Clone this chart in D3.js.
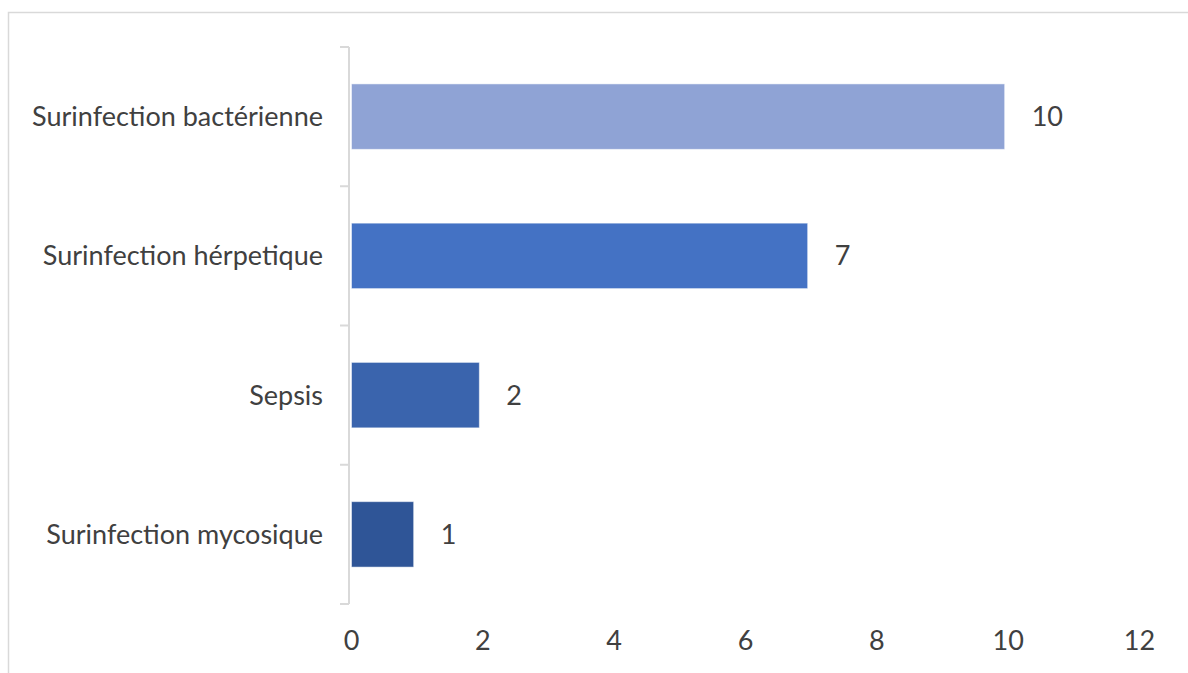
<!DOCTYPE html>
<html>
<head>
<meta charset="utf-8">
<script src="https://cdn.jsdelivr.net/npm/d3@7"></script>
<style>
  html, body { margin: 0; padding: 0; background: #fff; }
  svg { display: block; }
  text { font-family: Lato, "Open Sans", sans-serif; fill: #404040; }
</style>
</head>
<body>
<svg id="chart" width="1188" height="673"></svg>
<script>
// Complications infectieuses (effectifs)
const categories = ["Surinfection bactérienne", "Surinfection hérpetique", "Sepsis", "Surinfection mycosique"];
const counts = [10, 7, 2, 1];
const barColors = ["#8FA3D5", "#4472C4", "#3A64AD", "#2F5597"];
const xTicks = [0, 2, 4, 6, 8, 10, 12];

const fontSize = 27;
const svg = d3.select("#chart");

// chart area frame
svg.append("rect")
  .attr("x", 8.5).attr("y", 12.5)
  .attr("width", 1200).attr("height", 700)
  .attr("fill", "none").attr("stroke", "#d9d9d9").attr("stroke-width", 1.5);

const plot = { left: 348, right: 1136, top: 47, bottom: 604 };

const x = d3.scaleLinear().domain([0, 12]).range([plot.left, plot.right]);
const y = d3.scaleBand().domain(categories).range([plot.top, plot.bottom])
  .paddingInner(0.53).paddingOuter(0.265);
const axisX = x(0) + 1;
const barStart = x(0) + 3.5;

// bars
svg.append("g").selectAll("rect")
  .data(categories)
  .join("rect")
  .attr("x", barStart)
  .attr("y", d => y(d))
  .attr("width", (d, i) => x(counts[i]) - barStart)
  .attr("height", y.bandwidth())
  .attr("fill", (d, i) => barColors[i])
  .attr("stroke", "#ffffff").attr("stroke-opacity", 0.5).attr("stroke-width", 1);

// value labels
svg.append("g").selectAll("text")
  .data(categories)
  .join("text")
  .attr("x", (d, i) => x(counts[i]) + 27)
  .attr("y", d => y(d) + y.bandwidth() / 2)
  .attr("dy", "0.35em")
  .attr("font-size", fontSize)
  .text((d, i) => counts[i]);

// category axis with tick marks between bands
const boundaries = d3.range(categories.length + 1).map(i => plot.top + i * (plot.bottom - plot.top) / categories.length);
const axisG = svg.append("g");
axisG.append("line")
  .attr("x1", axisX).attr("x2", axisX)
  .attr("y1", plot.top).attr("y2", plot.bottom)
  .attr("stroke", "#d9d9d9").attr("stroke-width", 2);
axisG.selectAll("line.tick")
  .data(boundaries)
  .join("line")
  .attr("class", "tick")
  .attr("x1", axisX - 9).attr("x2", axisX)
  .attr("y1", d => d).attr("y2", d => d)
  .attr("stroke", "#d9d9d9").attr("stroke-width", 2);

axisG.selectAll("text")
  .data(categories)
  .join("text")
  .attr("x", 323)
  .attr("y", d => y(d) + y.bandwidth() / 2)
  .attr("dy", "0.35em")
  .attr("text-anchor", "end")
  .attr("font-size", fontSize)
  .text(d => d);

// value axis labels (no line)
const xAxis = d3.axisBottom(x).tickValues(xTicks).tickSize(0).tickPadding(0);
const xg = svg.append("g").attr("transform", `translate(3,${631})`).call(xAxis);
xg.select(".domain").remove();
xg.selectAll("text")
  .attr("font-size", fontSize)
  .attr("font-family", "Lato, 'Open Sans', sans-serif")
  .attr("fill", "#404040");
</script>
</body>
</html>
